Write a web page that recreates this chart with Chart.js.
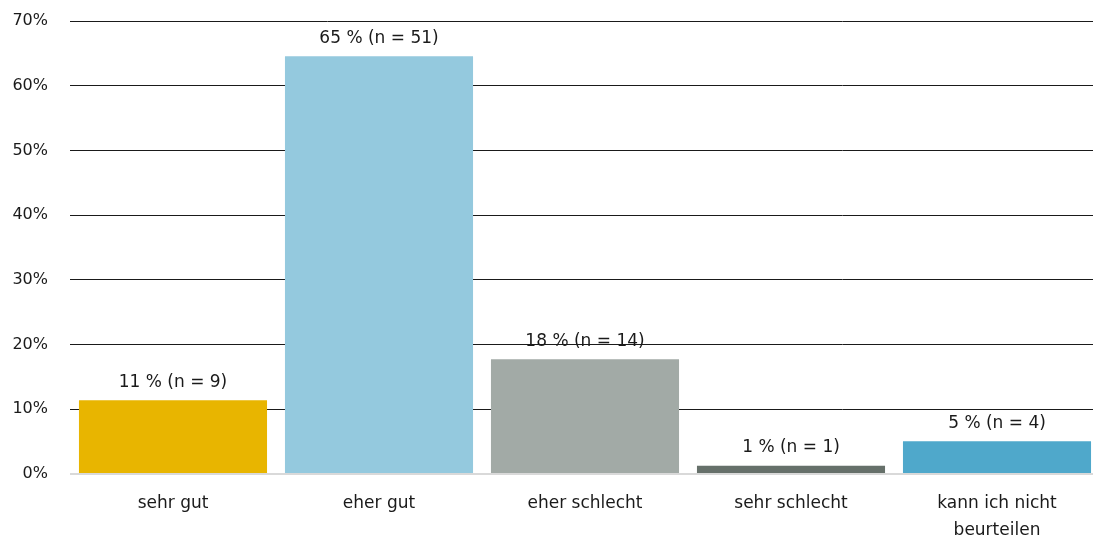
<!DOCTYPE html>
<html>
<head>
<meta charset="utf-8">
<script src="https://cdn.jsdelivr.net/npm/chart.js@4/dist/chart.umd.min.js"></script>
<style>
  html, body { margin: 0; padding: 0; background: #fff; overflow: hidden; }
  #wrap { position: relative; width: 1100px; height: 542px; }
</style>
</head>
<body>
<div id="wrap"><canvas id="chart"></canvas></div>
<script>
const categories = ['sehr gut', 'eher gut', 'eher schlecht', 'sehr schlecht', ['kann ich nicht', 'beurteilen']];
const percentValues = [11.39, 64.56, 17.72, 1.27, 5.06];
const counts = [9, 51, 14, 1, 4];
const barColors = ['#e8b500', '#94c9de', '#a2aaa6', '#66706a', '#4fa8cb'];
const yTicks = [0, 10, 20, 30, 40, 50, 60, 70];

const fontFamily = '"DejaVu Sans", sans-serif';

// writes "xx % (n = y)" above each bar
const valueLabels = {
  id: 'valueLabels',
  afterDatasetsDraw(chart) {
    const ctx = chart.ctx;
    const meta = chart.getDatasetMeta(0);
    ctx.save();
    ctx.font = '17px ' + fontFamily;
    ctx.fillStyle = '#1a1a1a';
    ctx.textAlign = 'center';
    ctx.textBaseline = 'middle';
    meta.data.forEach((bar, i) => {
      const txt = Math.round(percentValues[i]) + ' % (n = ' + counts[i] + ')';
      ctx.fillText(txt, bar.x, bar.y - 18);
    });
    ctx.restore();
  }
};

const ctx = document.getElementById('chart').getContext('2d');
new Chart(ctx, {
  type: 'bar',
  data: {
    labels: categories,
    datasets: [{
      data: percentValues,
      backgroundColor: barColors,
      borderWidth: 0,
      barPercentage: 0.913,
      categoryPercentage: 1
    }]
  },
  options: {
    responsive: true,
    maintainAspectRatio: false,
    animation: false,
    layout: { padding: { top: 21, left: 0, right: 0, bottom: 0 } },
    plugins: { legend: { display: false }, tooltip: { enabled: false } },
    scales: {
      x: {
        afterFit(scale) { scale.height = 68; },
        border: { display: false },
        grid: { display: false, drawTicks: false },
        ticks: {
          color: '#1a1a1a',
          padding: 16,
          maxRotation: 0,
          font: { family: fontFamily, size: 17, lineHeight: 1.6 }
        }
      },
      y: {
        min: 0,
        max: 70,
        afterFit(scale) {
          scale.width = 70;
          scale.paddingTop = 0;
          scale.paddingBottom = 0;
        },
        afterBuildTicks(scale) { scale.ticks = yTicks.map(v => ({ value: v })); },
        border: { display: false },
        grid: {
          drawTicks: false,
          color: c => c.tick && c.tick.value === 0 ? '#d9d9d9' : '#1a1a1a',
          lineWidth: c => c.tick && c.tick.value === 0 ? 2 : 1
        },
        ticks: {
          color: '#1a1a1a',
          padding: 22,
          font: { family: fontFamily, size: 16 },
          callback: v => v + '%'
        }
      }
    }
  },
  plugins: [valueLabels]
});
</script>
</body>
</html>
